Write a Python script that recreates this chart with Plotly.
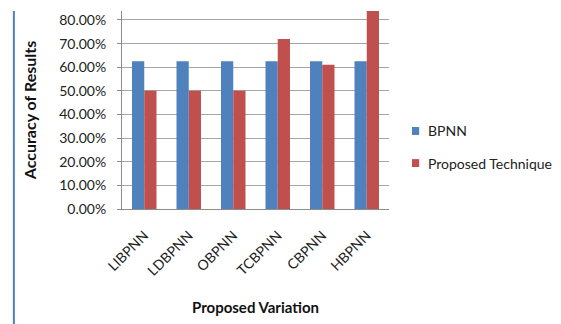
import plotly.graph_objects as go

# Accuracy per network variation
variations = ["LIBPNN", "LDBPNN", "OBPNN", "TCBPNN", "CBPNN", "HBPNN"]
series_names = ["BPNN", "Proposed Technique"]
series_colors = ["#4f81bd", "#c0504d"]
bpnn = [0.625, 0.625, 0.625, 0.625, 0.625, 0.625]
proposed = [0.50, 0.50, 0.50, 0.72, 0.61, 0.84]
y_ticks = [0.0, 0.1, 0.2, 0.3, 0.4, 0.5, 0.6, 0.7, 0.8]

FONT = "Lato"

fig = go.Figure()
for name, color, vals in zip(series_names, series_colors, [bpnn, proposed]):
    fig.add_trace(go.Bar(name=name, x=variations, y=vals,
                         marker=dict(color=color, line=dict(width=0))))

# Legend drawn by hand to the right of the plot area
shapes = [dict(type="line", xref="paper", yref="paper",
               x0=-0.405, x1=-0.405, y0=1.0, y1=-0.6,
               line=dict(color="#4f81bd", width=2))]
annotations = []
legend_y = [0.394, 0.232]
for name, color, ly in zip(series_names, series_colors, legend_y):
    shapes.append(dict(type="rect", xref="paper", yref="paper",
                       x0=1.086, x1=1.113, y0=ly - 0.02, y1=ly + 0.02,
                       fillcolor=color, line=dict(width=0)))
    annotations.append(dict(text=name, xref="paper", yref="paper",
                            x=1.137, y=ly, xanchor="left", yanchor="middle",
                            showarrow=False,
                            font=dict(family=FONT, size=14, color="#222222")))

fig.update_layout(
    width=561, height=324,
    margin=dict(l=122, r=172, t=11, b=115),
    paper_bgcolor="white", plot_bgcolor="white",
    barmode="group", bargap=0.45, bargroupgap=0,
    font=dict(family=FONT, size=13, color="#222222"),
    showlegend=False,
    xaxis=dict(
        tickangle=-45, showgrid=False, showline=True, linecolor="#8c8c8c",
        linewidth=1, ticks="outside", ticklen=12, tickcolor="rgba(0,0,0,0)",
        tickfont=dict(family=FONT, size=14),
        title=dict(text="<b>Proposed Variation</b>", standoff=24,
                   font=dict(family=FONT, size=15, color="#111111")),
    ),
    yaxis=dict(
        range=[0, 0.838], tickvals=y_ticks, tickformat=".2%",
        showgrid=True, gridcolor="#a6a6a6", gridwidth=1,
        showline=True, linecolor="#8c8c8c", linewidth=1,
        ticks="outside", ticklen=4, tickcolor="#8c8c8c",
        ticklabelstandoff=8,
        tickfont=dict(family=FONT, size=14), zeroline=False,
        title=dict(text="<b>Accuracy of Results</b>", standoff=18,
                   font=dict(family=FONT, size=16, color="#111111")),
    ),
    shapes=shapes,
    annotations=annotations,
)

fig.write_html("out.html")
